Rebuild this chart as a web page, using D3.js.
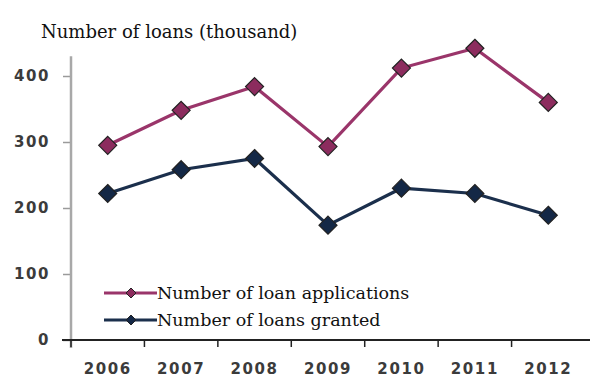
<!DOCTYPE html>
<html><head><meta charset="utf-8">
<script src="https://cdn.jsdelivr.net/npm/d3@7"></script>
<style>body{margin:0;background:#fff}svg{display:block}</style>
</head><body><svg id="c" width="590" height="378"></svg>
<script>
const years = ["2006","2007","2008","2009","2010","2011","2012"];
const applications = [295, 348, 384, 293, 412, 442, 360];
const granted = [222, 258, 275, 174, 230, 222, 189];
const yTicks = [0, 100, 200, 300, 400];
const seriesNames = ["Number of loan applications", "Number of loans granted"];
const colors = ["#9a356a", "#1b2f4c"];
const fills = ["#8c2c5e", "#142846"];
const title = "Number of loans (thousand)";

const svg = d3.select("#c");
const x = d3.scaleBand().domain(years).range([71, 585]);
const y = d3.scaleLinear().domain([0, 400]).range([340, 76]);

svg.append("text").attr("x", 41).attr("y", 38)
  .attr("font-family", "DejaVu Serif").attr("font-size", 18).attr("fill", "#111").text(title);

// y axis
const ya = svg.append("g").attr("transform", "translate(71,0)")
  .call(d3.axisLeft(y).tickValues(yTicks).tickSize(8).tickPadding(13));
ya.select(".domain").remove();
ya.append("line").attr("x1", 0).attr("x2", 0).attr("y1", y(430)).attr("y2", y(0) + 8)
  .attr("stroke", "#a8a8a8").attr("stroke-width", 2.5);
ya.selectAll(".tick line").attr("stroke", "#9a9a9a").attr("stroke-width", 1.5);
ya.selectAll(".tick text").attr("font-family", "DejaVu Sans").attr("font-weight", "bold")
  .attr("font-size", 15).attr("letter-spacing", 1.6).attr("fill", "#3b3b3b");

// x axis
const xa = svg.append("g").attr("transform", "translate(0,340)")
  .call(d3.axisBottom(x).tickSize(0).tickPadding(23));
xa.select(".domain").remove();
xa.append("line").attr("x1", 62).attr("x2", 590).attr("stroke", "#222").attr("stroke-width", 2);
xa.selectAll(".bt").data(years).enter().append("line")
  .attr("x1", d => x(d)).attr("x2", d => x(d)).attr("y1", 0).attr("y2", 7)
  .attr("stroke", "#222").attr("stroke-width", 1.5);
xa.selectAll(".tick text").attr("font-family", "DejaVu Sans").attr("font-weight", "bold")
  .attr("font-size", 15).attr("letter-spacing", 1.6).attr("fill", "#3b3b3b");

const cx = d => x(d) + x.bandwidth() / 2;
const diamond = (r) => `M0,${-r}L${r},0L0,${r}L${-r},0Z`;

[applications, granted].forEach((vals, i) => {
  const line = d3.line().x((d, j) => cx(years[j])).y(d => y(d));
  svg.append("path").datum(vals).attr("d", line).attr("fill", "none")
    .attr("stroke", colors[i]).attr("stroke-width", 3.2);
  svg.selectAll(".m" + i).data(vals).enter().append("path")
    .attr("transform", (d, j) => `translate(${cx(years[j])},${y(d)})`)
    .attr("d", diamond(9)).attr("fill", fills[i]).attr("stroke", "#222").attr("stroke-width", 1.2);
});

// legend
seriesNames.forEach((name, i) => {
  const ly = 293 + i * 27;
  svg.append("line").attr("x1", 104).attr("x2", 157).attr("y1", ly).attr("y2", ly)
    .attr("stroke", colors[i]).attr("stroke-width", 3.2);
  svg.append("path").attr("transform", `translate(131,${ly})`).attr("d", diamond(5))
    .attr("fill", fills[i]).attr("stroke", "#222").attr("stroke-width", 1);
  svg.append("text").attr("x", 157).attr("y", ly + 6)
    .attr("font-family", "DejaVu Serif").attr("font-size", 17.5).attr("fill", "#111").text(name);
});
</script></body></html>
